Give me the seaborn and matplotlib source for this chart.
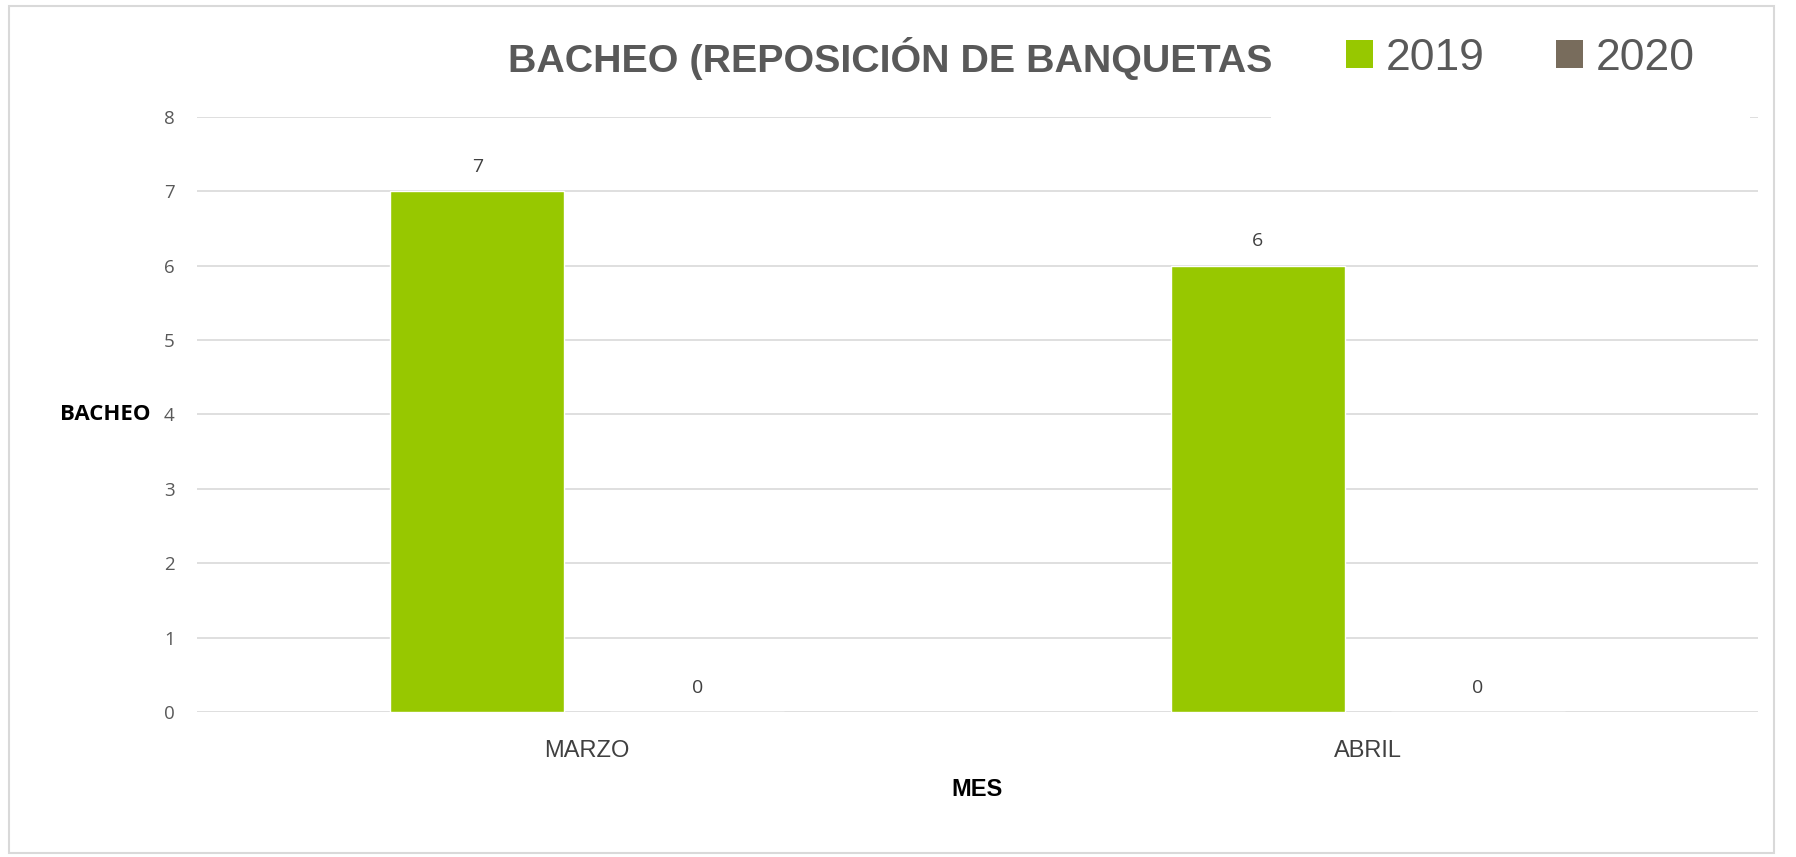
import pandas as pd
import matplotlib.pyplot as plt
import seaborn as sns
from matplotlib.patches import Patch, Rectangle

# Data
meses = ['MARZO', 'ABRIL']
anios = ['2019', '2020']
valores_2019 = [7, 6]
valores_2020 = [0, 0]
colores = ['#97C800', '#786C5C']

df = pd.DataFrame({
    'MES': meses * 2,
    'ANIO': [anios[0]] * len(meses) + [anios[1]] * len(meses),
    'BACHEO': valores_2019 + valores_2020,
})

sns.set_style('white')
plt.rcParams['font.family'] = ['Open Sans', 'DejaVu Sans']
narrow = ['Liberation Sans Narrow', 'Liberation Sans', 'DejaVu Sans']

fig = plt.figure(figsize=(17.96, 8.57), dpi=100)
ax = fig.add_axes([0.1097, 0.1692, 0.8691, 0.6943])

sns.barplot(data=df, x='MES', y='BACHEO', hue='ANIO', palette=colores,
            width=0.564, gap=0.21, legend=False, ax=ax, saturation=1)

for cont in ax.containers:
    ax.bar_label(cont, padding=11, fontsize=14, color='#404040')

ax.set_ylim(0, 8)
ax.set_xlim(-0.5, 1.5)
ax.set_yticks(range(0, 9))
ax.yaxis.grid(True, color='#D9D9D9', linewidth=1.2)
ax.set_axisbelow(True)
sns.despine(ax=ax, left=True, bottom=True, top=True, right=True)
ax.tick_params(axis='y', length=0, pad=16, labelsize=13.5, labelcolor='#595959')
ax.tick_params(axis='x', length=0, pad=20, labelcolor='#404040')
for lab in ax.get_xticklabels():
    lab.set_fontfamily(narrow)
    lab.set_fontsize(17)

ax.set_ylabel('BACHEO', rotation=0, fontweight='bold', fontsize=16,
              color='black', ha='right', va='center')
ax.yaxis.set_label_coords(-0.030, 0.5)
ax.set_xlabel('MES', fontweight='bold', fontsize=17, color='black',
              family=narrow, va='center')
ax.xaxis.set_label_coords(0.5, -0.131)

# Title
fig.text(0.4955, 1 - 58 / 857, 'BACHEO (REPOSICIÓN DE BANQUETAS', ha='center',
         va='center', fontsize=28.4, fontweight='bold', color='#595959', family=narrow)

# white box behind legend (hides top gridline like the original)
fig.add_artist(Rectangle((1271 / 1796, 1 - 125 / 857), 479 / 1796, 115 / 857,
                         transform=fig.transFigure, facecolor='white',
                         edgecolor='none', zorder=2))

handles = [Patch(facecolor=c, edgecolor='none') for c in colores]
leg = fig.legend(handles, anios, loc='center left', ncol=2,
                 bbox_to_anchor=(1346 / 1796, 1 - 58 / 857), frameon=False,
                 prop={'family': narrow, 'size': 32}, labelcolor='#595959',
                 handlelength=0.6, handleheight=0.6, handletextpad=0.3,
                 columnspacing=1.6, borderpad=0, borderaxespad=0)
leg.set_zorder(5)

# chart border
fig.add_artist(Rectangle((0.005, 0.005), 0.983, 0.988, transform=fig.transFigure,
                         facecolor='none', edgecolor='#D9D9D9', linewidth=1.5))

plt.savefig('out.png', dpi=100)
